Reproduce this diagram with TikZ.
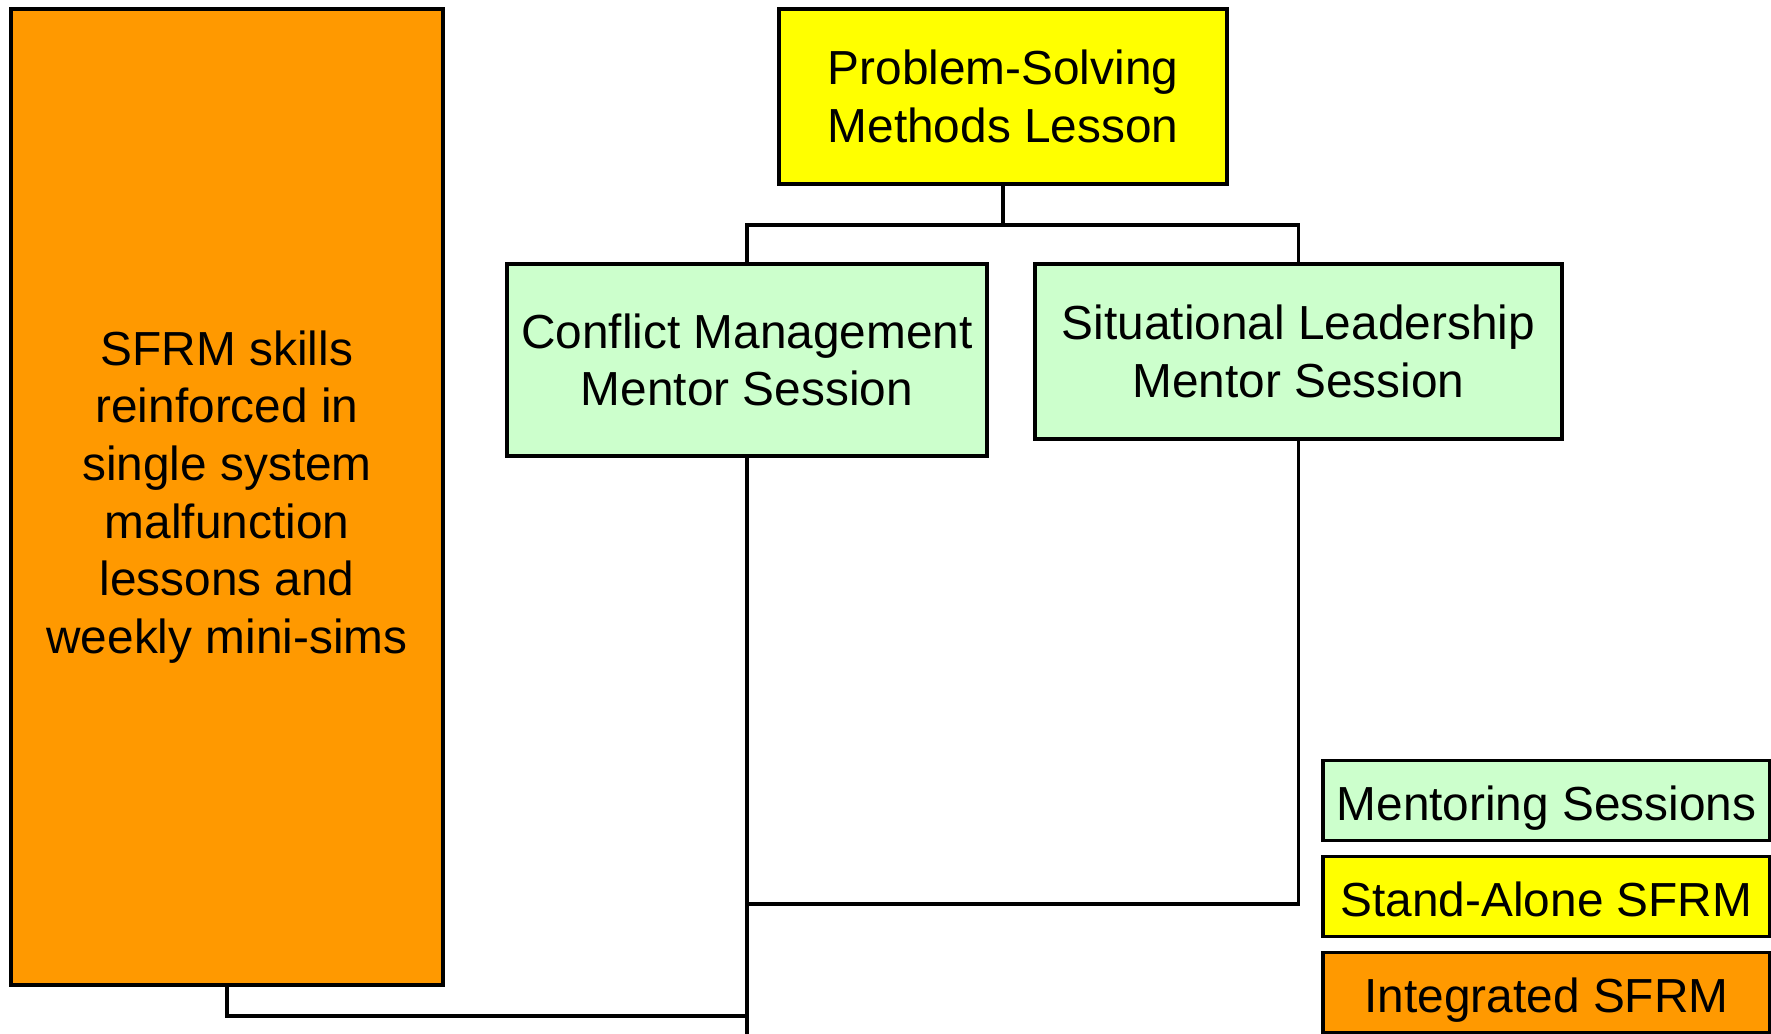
\documentclass[tikz,border=0pt]{standalone}
\usepackage{fontspec}
\setmainfont{Liberation Sans}
\definecolor{sforange}{HTML}{FF9900}
\definecolor{sfyellow}{HTML}{FFFF00}
\definecolor{sfgreen}{HTML}{CCFFCC}
\tikzset{
  box/.style={draw=black, line width=1pt, align=center, inner sep=0pt,
    font=\fontsize{13.6}{16.4}\selectfont},
  keybox/.style={box, minimum width=4.47cm, minimum height=0.8cm,
    text height=11.5pt, text depth=0pt},
  link/.style={line width=0.9pt}
}
\begin{document}
\begin{tikzpicture}
  \useasboundingbox (0, 0) rectangle (17.71, -10.34);

  %% блоки
  \node[box, fill=sforange, minimum width=4.32cm, minimum height=9.76cm] (skills) at (2.27, -4.97)
    {SFRM skills\\reinforced in\\single system\\malfunction\\lessons and\\weekly mini-sims};
  \node[box, fill=sfyellow, minimum width=4.48cm, minimum height=1.75cm] (psm) at (10.03, -0.965)
    {Problem-Solving\\Methods Lesson};
  \node[box, fill=sfgreen, minimum width=4.8cm, minimum height=1.92cm] (conflict) at (7.47, -3.6)
    {Conflict Management\\Mentor Session};
  \node[box, fill=sfgreen, minimum width=5.27cm, minimum height=1.75cm] (situational) at (12.985, -3.515)
    {Situational Leadership\\Mentor Session};

  %% легенда
  \node[keybox, fill=sfgreen] (mentoring) at (15.465, -8.005) {Mentoring Sessions};
  \node[keybox, fill=sfyellow] (standalone) at (15.465, -8.965) {Stand-Alone SFRM};
  \node[keybox, fill=sforange] (integrated) at (15.465, -9.925) {Integrated SFRM};

  %% связи
  \coordinate (bar) at (10.03, -2.25);
  \coordinate (low) at (7.47, -9.04);
  \coordinate (join) at (7.47, -10.16);
  \coordinate (cend) at (7.47, -10.34);
  \draw[link] (psm.south) -- (bar);
  \draw[link] (conflict.north) |- (bar) -| (situational.north);
  \draw[link] (conflict.south) -- (cend);
  \draw[link] (situational.south) |- (low);
  \draw[link] (skills.south) |- (join);
\end{tikzpicture}
\end{document}
